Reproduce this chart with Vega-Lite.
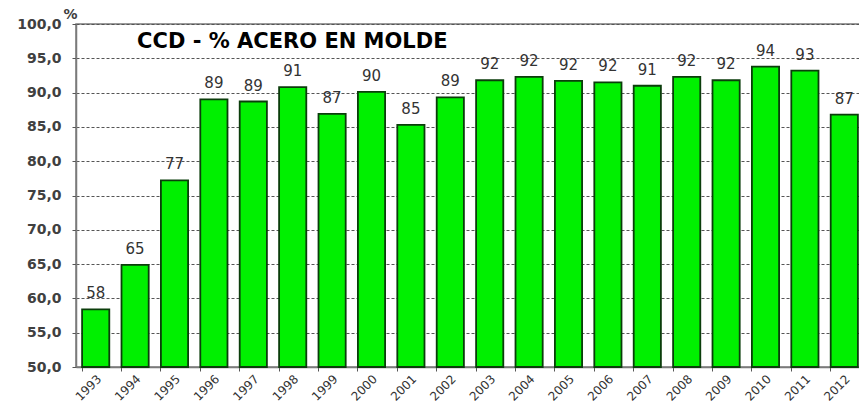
{
  "$schema": "https://vega.github.io/schema/vega-lite/v6.json",
  "width": 788,
  "height": 343,
  "autosize": {"type": "none"},
  "padding": {"left": 76, "top": 24, "right": 0, "bottom": 40},
  "background": "white",
  "config": {
    "view": {"stroke": "#7a7a7a", "strokeWidth": 1.5},
    "font": "DejaVu Sans"
  },
  "data": {
    "values": [
      {"year": "1993", "v": 58.4},
      {"year": "1994", "v": 64.9},
      {"year": "1995", "v": 77.2},
      {"year": "1996", "v": 89.0},
      {"year": "1997", "v": 88.7},
      {"year": "1998", "v": 90.8},
      {"year": "1999", "v": 86.9},
      {"year": "2000", "v": 90.1},
      {"year": "2001", "v": 85.3},
      {"year": "2002", "v": 89.3},
      {"year": "2003", "v": 91.8},
      {"year": "2004", "v": 92.3},
      {"year": "2005", "v": 91.7},
      {"year": "2006", "v": 91.5},
      {"year": "2007", "v": 91.0},
      {"year": "2008", "v": 92.3},
      {"year": "2009", "v": 91.8},
      {"year": "2010", "v": 93.8},
      {"year": "2011", "v": 93.2},
      {"year": "2012", "v": 86.8}
    ]
  },
  "encoding": {
    "x": {
      "field": "year",
      "type": "ordinal",
      "scale": {"paddingInner": 0.31, "paddingOuter": 0.155},
      "axis": {
        "title": null,
        "labelAngle": -45,
        "labelFontSize": 12,
        "labelColor": "#333333",
        "labelPadding": 2,
        "labelOverlap": false,
        "bandPosition": 0,
        "tickColor": "#555555",
        "tickSize": 4,
        "domainColor": "#7a7a7a",
        "domainWidth": 1.5
      }
    },
    "y": {
      "field": "v",
      "type": "quantitative",
      "scale": {"domain": [50, 100], "nice": false, "zero": false},
      "axis": {
        "title": "%",
        "titleAngle": 0,
        "titleAnchor": "end",
        "titleAlign": "left",
        "titleBaseline": "bottom",
        "titleX": -13,
        "titleY": -3,
        "titleFontSize": 14,
        "titleFontWeight": "bold",
        "titleColor": "#404040",
        "values": [50, 55, 60, 65, 70, 75, 80, 85, 90, 95, 100],
        "labelExpr": "replace(format(datum.value, '.1f'), '.', ',')",
        "labelFontSize": 14,
        "labelFontWeight": "bold",
        "labelColor": "#404040",
        "labelPadding": 11,
        "tickSize": 4,
        "tickColor": "#555555",
        "domainColor": "#7a7a7a",
        "domainWidth": 1.5,
        "gridColor": "#555555",
        "gridDash": [3, 2],
        "gridWidth": 1
      }
    }
  },
  "layer": [
    {
      "mark": {"type": "bar", "color": "#00f000", "stroke": "#0b3d0b", "strokeWidth": 1.8},
      "encoding": {"y2": {"datum": 50}}
    },
    {
      "mark": {"type": "text", "dy": -8, "baseline": "bottom", "fontSize": 15, "color": "#333333"},
      "encoding": {"text": {"field": "v", "type": "quantitative", "format": ".0f"}}
    },
    {
      "data": {"values": [{"year": "1994", "v": 97.4, "t": "CCD - % ACERO EN MOLDE"}]},
      "mark": {"type": "text", "align": "left", "baseline": "middle", "fontSize": 21, "fontWeight": "bold", "color": "#000000", "dx": 2},
      "encoding": {"text": {"field": "t"}}
    }
  ]
}
